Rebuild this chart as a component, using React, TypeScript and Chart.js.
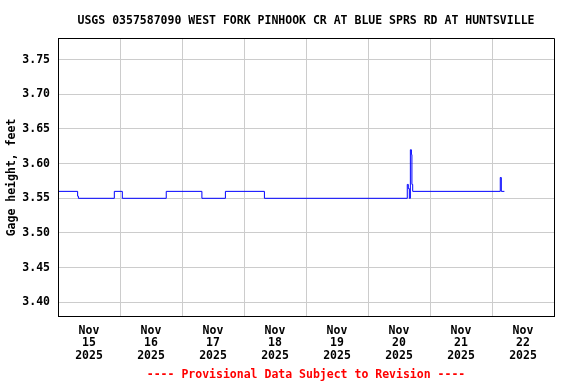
import React, { useEffect, useRef } from 'react';
import { Chart, registerables } from 'chart.js';

Chart.register(...registerables);

const TITLE = 'USGS 0357587090 WEST FORK PINHOOK CR AT BLUE SPRS RD AT HUNTSVILLE';
const SUBTITLE = '---- Provisional Data Subject to Revision ----';
const Y_TITLE = 'Gage height, feet';
const MONTH = 'Nov';
const YEAR = '2025';
const DAYS = ['15', '16', '17', '18', '19', '20', '21', '22'];
const HOURS_PER_DAY = 24;
const Y_TICKS = [3.4, 3.45, 3.5, 3.55, 3.6, 3.65, 3.7, 3.75];
const Y_MIN = 3.38;
const Y_MAX = 3.78;

// hours since Nov 15 00:00, value starting at that time
const TIMES = [0, 7.6, 7.9, 21.8, 24.9, 41.9, 55.7, 64.8, 79.9, 135.2, 135.6, 136.0, 136.4, 136.8, 137.0, 137.3, 171.2, 171.6, 172.8];
const GAGE = [3.56, 3.553, 3.55, 3.56, 3.55, 3.56, 3.55, 3.56, 3.55, 3.57, 3.564, 3.55, 3.62, 3.613, 3.57, 3.56, 3.58, 3.56, 3.56];

const FONT_FAMILY = "'DejaVu Sans Mono', 'Liberation Mono', monospace";
const FONT = { family: FONT_FAMILY, size: 11.5, weight: 'bold' as const, lineHeight: 1.2 };
const TICK_FONT = { family: FONT_FAMILY, size: 11.5, weight: 'bold' as const, lineHeight: 12.8 / 11.5 };

const align = (p: number) => Math.round(p - 0.5) + 0.5;

export default function App() {
  const ref = useRef<HTMLCanvasElement>(null);

  useEffect(() => {
    document.body.style.margin = '0';
    const frame = {
      id: 'frame',
      afterDraw(chart: any) {
        const { left, top, right, bottom } = chart.chartArea;
        const ctx = chart.ctx;
        const x0 = align(left);
        const y0 = align(top);
        const x1 = align(right);
        const y1 = align(bottom);
        ctx.save();
        ctx.strokeStyle = '#000000';
        ctx.lineWidth = 1;
        ctx.beginPath();
        ctx.moveTo(x0, y1);
        ctx.lineTo(x0, y0);
        ctx.lineTo(x1, y0);
        ctx.lineTo(x1, y1);
        ctx.lineTo(x0, y1);
        ctx.stroke();
        ctx.restore();
      },
    };
    const nDays = DAYS.length;
    const chart = new Chart(ref.current as HTMLCanvasElement, {
      type: 'line',
      data: {
        datasets: [
          {
            data: TIMES.map((t, i) => ({ x: t, y: GAGE[i] })),
            borderColor: '#0000ff',
            borderWidth: 1,
            pointRadius: 0,
            stepped: true,
            fill: false,
          },
        ],
      },
      options: {
        animation: false,
        responsive: false,
        layout: { padding: { left: 0, right: 22, top: 0, bottom: 2 } },
        plugins: {
          legend: { display: false },
          tooltip: { enabled: false },
          title: {
            display: true,
            text: TITLE,
            fullSize: false,
            color: '#000000',
            font: FONT,
            padding: { top: 14, bottom: 11 },
          },
          subtitle: {
            display: true,
            position: 'bottom',
            text: SUBTITLE,
            fullSize: false,
            color: '#ff0000',
            font: FONT,
            padding: { top: 5, bottom: 0 },
          },
        },
        scales: {
          x: {
            type: 'linear',
            min: 0,
            max: nDays * HOURS_PER_DAY,
            afterBuildTicks: (axis: any) => {
              axis.ticks = Array.from({ length: nDays + 1 }, (_, i) => ({ value: i * HOURS_PER_DAY }));
            },
            afterFit: (s: any) => {
              s.height = 47;
            },
            ticks: {
              autoSkip: false,
              maxRotation: 0,
              minRotation: 0,
              labelOffset: 31,
              padding: 8,
              color: '#000000',
              font: TICK_FONT,
              callback: (_v: any, i: number) => (i < nDays ? [MONTH, DAYS[i], YEAR] : ''),
            },
            grid: { color: '#cccccc', drawTicks: false },
            border: { color: '#000000' },
          },
          y: {
            type: 'linear',
            min: Y_MIN,
            max: Y_MAX,
            afterBuildTicks: (axis: any) => {
              axis.ticks = Y_TICKS.map((v) => ({ value: v }));
            },
            afterFit: (s: any) => {
              s.width = 58;
            },
            ticks: {
              padding: 8,
              color: '#000000',
              font: FONT,
              callback: (v: any) => Number(v).toFixed(2),
            },
            title: {
              display: true,
              text: Y_TITLE,
              color: '#000000',
              font: FONT,
              padding: { top: 5, bottom: 0 },
            },
            grid: { color: '#cccccc', drawTicks: false },
            border: { color: '#000000' },
          },
        },
      },
      plugins: [frame],
    } as any);
    return () => chart.destroy();
  }, []);

  return <canvas ref={ref} width={576} height={384} style={{ display: 'block' }} />;
}
